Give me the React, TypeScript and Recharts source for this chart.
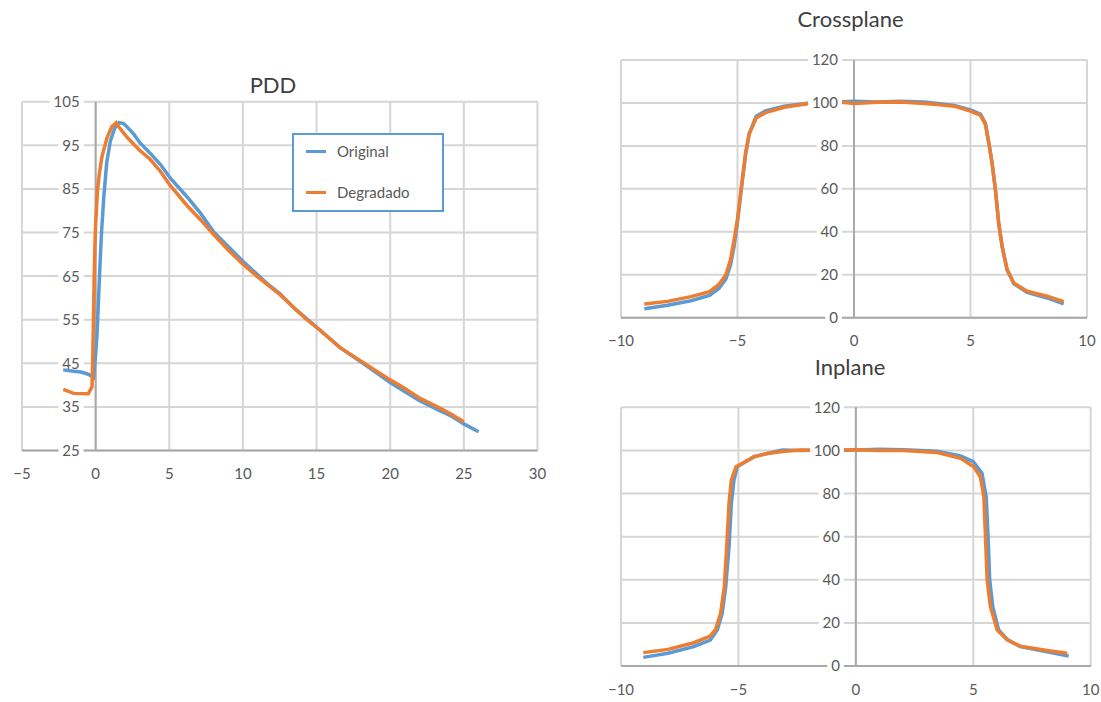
import React from 'react';
import { LineChart, Line, XAxis, YAxis, CartesianGrid, ReferenceLine, Legend } from 'recharts';

const BLUE = '#5b9bd5';
const ORANGE = '#ed7d31';
const GRID = '#d6d6d6';
const AXIS = '#a9a9a9';
const TEXT = '#595959';
const TITLE = '#404040';

// ---------- PDD ----------
const pddXTicks = [-5, 0, 5, 10, 15, 20, 25, 30];
const pddYTicks = [25, 35, 45, 55, 65, 75, 85, 95, 105];

const pddOriginalDepth = [-2.2, -1.5, -1.0, -0.5, -0.15, 0.0, 0.1, 0.2, 0.3, 0.4, 0.55, 0.75, 1.0, 1.3, 1.6, 1.9, 2.2, 2.6, 3.0, 3.7, 4.4, 5.06, 6.2, 7.1, 8.0, 9.0, 10.0, 11.0, 11.6, 12.5, 13.5, 14.3, 15.2, 16.6, 18.2, 20.0, 21.0, 22.0, 23.4, 24.2, 25.0, 26.0];
const pddOriginalDose = [43.5, 43.2, 43.0, 42.5, 41.8, 47, 52, 60, 68, 75, 83, 91, 96, 99, 100.2, 100, 99, 97.5, 95.6, 93.2, 90.6, 87.5, 83.2, 79.5, 75.2, 71.8, 68.4, 65.3, 63.4, 61, 57.6, 55.3, 52.7, 48.6, 44.9, 40.6, 38.5, 36.4, 34.1, 32.8, 31.1, 29.3];

const pddDegradadoDepth = [-2.2, -1.5, -0.5, -0.25, -0.2, -0.15, -0.1, -0.05, 0.0, 0.13, 0.25, 0.43, 0.77, 1.1, 1.4, 1.55, 2.1, 2.6, 3.0, 3.7, 4.4, 5.06, 6.2, 7.1, 8.0, 9.0, 10.0, 11.0, 12.5, 14.3, 15.2, 16.6, 18.2, 20.0, 21.0, 22.0, 23.4, 24.2, 25.0];
const pddDegradadoDose = [39.0, 38.1, 38.0, 39.6, 45, 55, 65, 72, 77, 84.8, 88.5, 92.4, 96.7, 99.3, 100.2, 99.3, 97.0, 95.2, 93.8, 91.8, 89.0, 85.8, 81.2, 78.0, 74.6, 71.0, 67.7, 64.8, 60.8, 55.1, 52.7, 48.6, 45.1, 41.2, 39.2, 37.0, 34.7, 33.2, 31.6];

// ---------- Profiles ----------
const profXTicks = [-10, -5, 0, 5, 10];
const profYTicks = [0, 20, 40, 60, 80, 100, 120];

const crossOriginalPos = [-9.0, -8.0, -7.0, -6.2, -5.8, -5.5, -5.3, -5.15, -5.0, -4.8, -4.65, -4.5, -4.2, -3.8, -3.0, -2.0, -1.0, -0.5, 0, 1, 2, 3, 3.6, 4.3, 5.0, 5.43, 5.64, 5.79, 5.93, 6.07, 6.21, 6.36, 6.57, 6.86, 7.43, 8.29, 9.0];
const crossOriginalDose = [4.2, 5.8, 7.9, 10.4, 13.6, 18.0, 24.5, 33, 44.5, 63, 76, 85.5, 93.8, 96.3, 98.5, 99.9, 100.3, 100.6, 100.8, 100.5, 100.8, 100.5, 99.8, 98.8, 96.8, 94.8, 90.5, 81.2, 71.9, 59.5, 44, 33.1, 22.2, 15.8, 11.8, 9.2, 6.4];
const crossDegradadoPos = [-9.0, -8.0, -7.0, -6.2, -5.8, -5.5, -5.3, -5.15, -5.0, -4.8, -4.65, -4.5, -4.2, -3.8, -3.0, -2.0, -1.0, -0.5, 0, 1, 2, 3, 3.6, 4.3, 5.0, 5.43, 5.64, 5.79, 5.93, 6.07, 6.21, 6.36, 6.57, 6.86, 7.43, 8.29, 9.0];
const crossDegradadoDose = [6.4, 7.6, 9.8, 12.1, 15.5, 20.0, 27, 36, 46, 64, 77, 85.5, 93, 95.5, 98, 99.6, 100, 100.3, 99.8, 100.3, 100.4, 99.7, 99.3, 98.5, 96.2, 94.2, 90.0, 81, 71.5, 59.5, 44, 33, 22.5, 16.2, 12.3, 10, 7.5];

const inOriginalPos = [-9.05, -8.0, -6.9, -6.2, -5.9, -5.69, -5.54, -5.4, -5.3, -5.19, -5.05, -4.34, -3.77, -3.13, -2.35, -1.5, -0.8, 0, 1, 2.04, 3.47, 4.46, 5.0, 5.37, 5.55, 5.63, 5.7, 5.83, 6.08, 6.47, 7.0, 8.14, 9.06];
const inOriginalDose = [4.0, 5.9, 9.0, 12, 16.7, 24.4, 36.8, 55.3, 75.5, 86.3, 92.4, 97.1, 98.6, 100.2, 100, 100.2, 100, 100.2, 100.5, 100.3, 99.6, 97.4, 94.8, 89.4, 78.5, 60, 40, 27.5, 16.7, 12.1, 9.0, 6.6, 4.6];
const inDegradadoPos = [-9.05, -8.0, -6.9, -6.2, -5.97, -5.76, -5.6, -5.5, -5.4, -5.3, -5.1, -4.34, -3.77, -3.13, -2.35, -1.5, 0, 1, 2.04, 3.47, 4.46, 5.02, 5.3, 5.45, 5.52, 5.59, 5.73, 6.02, 6.44, 7.0, 8.14, 9.0];
const inDegradadoDose = [6.2, 7.7, 10.8, 13.9, 17, 24.4, 36.8, 55.3, 75.5, 86.3, 92.4, 97, 98.6, 99.5, 100.2, 100, 100.3, 100, 100, 99.0, 96.3, 92.4, 87.8, 78.5, 60, 39.9, 27.5, 16.7, 12.1, 9.2, 7.2, 5.9];

const seriesNames = ['Original', 'Degradado'];

const zip = (xs: number[], ys: number[]) => xs.map((x, i) => ({ x, y: ys[i] }));

type Series = { name: string; color: string; data: { x: number; y: number }[] };

const minus = (v: number) => String(v).replace('-', '\u2212');

function YTick(props: any) {
  const { y, payload, zeroX } = props;
  const label = String(payload.value);
  const w = label.length * 8.6 + 8;
  const right = zeroX - 12;
  return (
    <g>
      <rect x={right - w} y={y - 5} width={w} height={10} fill="#ffffff" />
      <text x={zeroX - 16} y={y} dy="0.36em" textAnchor="end" fontSize={15} fill={TEXT}>
        {label}
      </text>
    </g>
  );
}

function LegendBox(props: any) {
  const payload = [...(props.payload || [])].sort(
    (a: any, b: any) => seriesNames.indexOf(a.value) - seriesNames.indexOf(b.value)
  );
  return (
    <div
      style={{
        width: 152,
        height: 79,
        border: `2px solid ${BLUE}`,
        background: '#fff',
        boxSizing: 'border-box',
        position: 'relative',
      }}
    >
      {payload.map((p: any, i: number) => (
        <div
          key={p.value}
          style={{ position: 'absolute', left: 12, top: 7 + i * 41, height: 18, display: 'flex', alignItems: 'center' }}
        >
          <span style={{ display: 'inline-block', width: 20, height: 3, background: p.color }} />
          <span style={{ marginLeft: 11, fontSize: 15, color: TEXT, whiteSpace: 'nowrap' }}>{p.value}</span>
        </div>
      ))}
    </div>
  );
}

type PanelProps = {
  left: number;
  top: number;
  width: number;
  height: number;
  margin: { top: number; right: number; bottom: number; left: number };
  xDomain: [number, number];
  yDomain: [number, number];
  xTicks: number[];
  yTicks: number[];
  series: Series[];
  legend?: boolean;
};

function Panel(p: PanelProps) {
  const yAxisW = 1;
  const plotLeft = p.margin.left + yAxisW;
  const plotW = p.width - plotLeft - p.margin.right;
  const zeroX = plotLeft + (plotW * (0 - p.xDomain[0])) / (p.xDomain[1] - p.xDomain[0]);
  return (
    <div style={{ position: 'absolute', left: p.left, top: p.top }}>
      <LineChart width={p.width} height={p.height} margin={p.margin}>
        <CartesianGrid stroke={GRID} strokeWidth={2} />
        <ReferenceLine x={0} stroke={AXIS} strokeWidth={2} />
        {p.series.map((s) => (
          <Line
            key={s.name}
            data={s.data}
            dataKey="y"
            name={s.name}
            type="linear"
            stroke={s.color}
            strokeWidth={3.5}
            dot={false}
            activeDot={false}
            isAnimationActive={false}
          />
        ))}
        <XAxis
          type="number"
          dataKey="x"
          domain={p.xDomain}
          ticks={p.xTicks}
          interval={0}
          allowDataOverflow
          axisLine={{ stroke: AXIS, strokeWidth: 2 }}
          tickLine={false}
          tickMargin={12}
          tick={{ fontSize: 15, fill: TEXT }}
          tickFormatter={minus}
          height={30}
        />
        <YAxis
          type="number"
          domain={p.yDomain}
          ticks={p.yTicks}
          interval={0}
          allowDataOverflow
          axisLine={false}
          tickLine={false}
          width={yAxisW}
          tick={(tp: any) => <YTick {...tp} zeroX={zeroX} />}
        />
        {p.legend && (
          <Legend
            layout="vertical"
            align="center"
            verticalAlign="middle"
            content={(lp: any) => <LegendBox {...lp} />}
            wrapperStyle={{ position: 'absolute', left: 292, top: 133, width: 152, height: 79 }}
          />
        )}
      </LineChart>
    </div>
  );
}

export default function App() {
  const pddSeries: Series[] = [
    { name: seriesNames[0], color: BLUE, data: zip(pddOriginalDepth, pddOriginalDose) },
    { name: seriesNames[1], color: ORANGE, data: zip(pddDegradadoDepth, pddDegradadoDose) },
  ];
  const crossSeries: Series[] = [
    { name: seriesNames[0], color: BLUE, data: zip(crossOriginalPos, crossOriginalDose) },
    { name: seriesNames[1], color: ORANGE, data: zip(crossDegradadoPos, crossDegradadoDose) },
  ];
  const inSeries: Series[] = [
    { name: seriesNames[0], color: BLUE, data: zip(inOriginalPos, inOriginalDose) },
    { name: seriesNames[1], color: ORANGE, data: zip(inDegradadoPos, inDegradadoDose) },
  ];

  return (
    <div
      style={{
        position: 'absolute',
        left: 0,
        top: 0,
        width: 1101,
        height: 702,
        background: '#ffffff',
        fontFamily: 'Lato, "Open Sans", sans-serif',
        overflow: 'hidden',
      }}
    >
      <Panel
        left={0}
        top={0}
        width={560}
        height={500}
        margin={{ top: 101.7, right: 22.5, bottom: 19.5, left: 21 }}
        xDomain={[-5, 30]}
        yDomain={[25, 105]}
        xTicks={pddXTicks}
        yTicks={pddYTicks}
        series={pddSeries}
        legend
      />
      <Panel
        left={580}
        top={0}
        width={521}
        height={360}
        margin={{ top: 60, right: 14, bottom: 12.3, left: 40 }}
        xDomain={[-10, 10]}
        yDomain={[0, 120]}
        xTicks={profXTicks}
        yTicks={profYTicks}
        series={crossSeries}
      />
      <Panel
        left={580}
        top={350}
        width={521}
        height={352}
        margin={{ top: 57.3, right: 10.3, bottom: 6, left: 40 }}
        xDomain={[-10, 10]}
        yDomain={[0, 120]}
        xTicks={profXTicks}
        yTicks={profYTicks}
        series={inSeries}
      />
      <svg
        width={1101}
        height={702}
        style={{ position: 'absolute', left: 0, top: 0, pointerEvents: 'none' }}
      >
        <text x={273} y={92.5} textAnchor="middle" fontSize={22} fill={TITLE}>PDD</text>
        <text x={850.5} y={26.5} textAnchor="middle" fontSize={22} fill={TITLE}>Crossplane</text>
        <text x={850} y={375} textAnchor="middle" fontSize={22} fill={TITLE}>Inplane</text>
      </svg>
    </div>
  );
}
